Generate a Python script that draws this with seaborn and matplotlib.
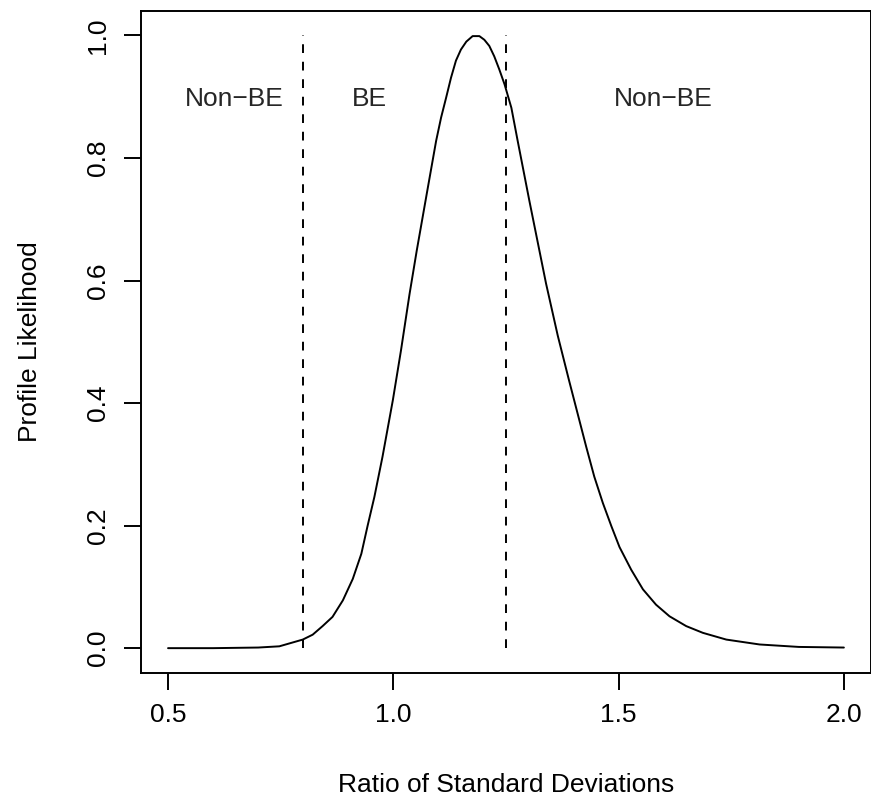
import numpy as np
import pandas as pd
import matplotlib
matplotlib.use('Agg')
import matplotlib.pyplot as plt
import seaborn as sns

# profile likelihood
ratio = [0.5, 0.6, 0.7, 0.747, 0.799, 0.821, 0.843, 0.865, 0.888, 0.91,
         0.929, 0.943, 0.958, 0.976, 0.999, 1.017, 1.036, 1.052, 1.075, 1.095,
         1.106, 1.117, 1.128, 1.139, 1.15, 1.162, 1.176, 1.191, 1.202, 1.213,
         1.224, 1.235, 1.247, 1.262, 1.276, 1.302, 1.339, 1.365, 1.39, 1.409,
         1.428, 1.446, 1.465, 1.484, 1.502, 1.528, 1.554, 1.583, 1.613, 1.65,
         1.687, 1.739, 1.813, 1.9, 2.0]
likelihood = [0.0, 0.0, 0.001, 0.003, 0.014, 0.022, 0.036, 0.051, 0.078, 0.113,
              0.154, 0.2, 0.247, 0.3125, 0.405, 0.486, 0.578, 0.649, 0.745, 0.828,
              0.866, 0.898, 0.931, 0.959, 0.977, 0.99, 0.999, 0.999, 0.993, 0.983,
              0.966, 0.945, 0.92, 0.882, 0.828, 0.73, 0.595, 0.51, 0.437, 0.383,
              0.329, 0.28, 0.237, 0.199, 0.165, 0.128, 0.096, 0.071, 0.052, 0.036,
              0.025, 0.014, 0.006, 0.002, 0.001]

# bioequivalence limits and region labels
limits = [0.8, 1.25]
region_x = [0.647, 0.947, 1.6]
region_labels = ['Non\u2212BE', 'BE', 'Non\u2212BE']
xticks = [0.5, 1.0, 1.5, 2.0]
yticks = [0.0, 0.2, 0.4, 0.6, 0.8, 1.0]

df = pd.DataFrame({'ratio': ratio, 'likelihood': likelihood})

sns.set_theme(style='white')
plt.rcParams['font.family'] = ['Liberation Sans', 'DejaVu Sans']
fs = 19

fig = plt.figure(figsize=(8.71, 8.08), dpi=100)
ax = fig.add_axes([0.1619, 0.1675, 0.838, 0.8189])

sns.lineplot(data=df, x='ratio', y='likelihood', color='black', linewidth=1.4, ax=ax)

# dashed limits at 0.8 and 1.25
for lim in limits:
    ax.plot([lim, lim], [0, 1], color='black', linewidth=1.4, linestyle=(0, (4.5, 4.5)))

for xx, lab in zip(region_x, region_labels):
    ax.text(xx, 0.896, lab, ha='center', va='center', fontsize=fs)

ax.set_xlim(0.44, 2.06)
ax.set_ylim(-0.04, 1.04)
ax.set_xticks(xticks)
ax.set_xticklabels([f'{t:.1f}' for t in xticks])
ax.set_yticks(yticks)
ax.set_yticklabels([f'{t:.1f}' for t in yticks], rotation=90, va='center')

ax.tick_params(axis='both', direction='out', length=12.2, width=1.4, color='black',
               labelsize=fs, labelcolor='black', left=True, bottom=True)
ax.tick_params(axis='x', pad=10)
ax.tick_params(axis='y', pad=10)

for sp in ax.spines.values():
    sp.set_visible(True)
    sp.set_color('black')
    sp.set_linewidth(1.4)

ax.set_xlabel('Ratio of Standard Deviations', fontsize=fs, color='black')
ax.set_ylabel('Profile Likelihood', fontsize=fs, color='black')
ax.xaxis.label.set_va('center')
ax.yaxis.label.set_va('center')
ax.xaxis.set_label_coords(0.5, -0.170)
ax.yaxis.set_label_coords(-0.152, 0.5)

fig.savefig('out.png', dpi=100, facecolor='white')
